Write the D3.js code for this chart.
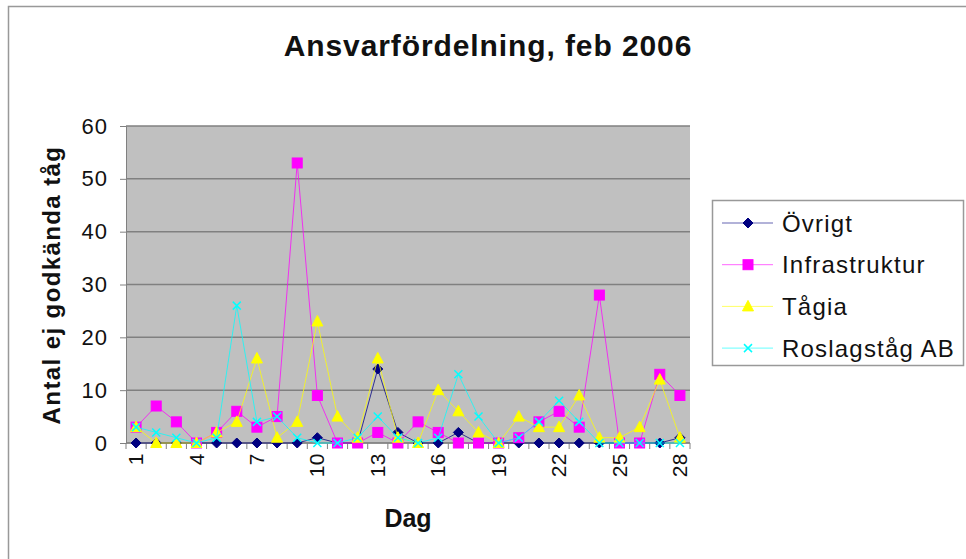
<!DOCTYPE html>
<html><head><meta charset="utf-8">
<script src="https://cdn.jsdelivr.net/npm/d3@7"></script>
<style>body{margin:0;background:#fff}svg{display:block}text{font-family:"Liberation Sans",Arial,sans-serif}</style>
</head><body><svg id="c" width="966" height="559"></svg>
<script>
const days = d3.range(1, 29);
const dayLabels = days.map(String);
const seriesNames = ["Övrigt", "Infrastruktur", "Tågia", "Roslagståg AB"];
const ovrigt = [0,0,0,0,0,0,0,0,0,1,0,0,14,2,0,0,2,0,0,0,0,0,0,0,0,0,0,1];
const infrastruktur = [3,7,4,0,2,6,3,5,53,9,0,0,2,0,4,2,0,0,0,1,4,6,3,28,0,0,13,9];
const tagia = [3,0,0,0,2,4,16,1,4,23,5,1,16,1,0,10,6,2,0,5,3,3,9,1,1,3,12,1];
const roslagstag = [3,2,1,0,1,26,4,5,1,0,0,1,5,1,0,1,13,5,0,1,4,8,4,0,0,0,0,0];
const yTicks = [0,10,20,30,40,50,60];
const title = "Ansvarfördelning, feb 2006";
const yTitle = "Antal ej godkända tåg";
const xTitle = "Dag";

const colors = ["#000080", "#FF00FF", "#FFFF00", "#00FFFF"];
const lineColors = ["#000080", "#FF00FF", "#FFFF00", "#00FFFF"];
const shapes = ["diamond", "square", "triangle", "x"];
const allData = [ovrigt, infrastruktur, tagia, roslagstag];

const svg = d3.select("#c");
const L = 126, R = 690, T = 126, B = 443;

svg.append("rect").attr("x", 8.5).attr("y", 6.5).attr("width", 1000).attr("height", 1000)
  .attr("fill", "none").attr("stroke", "#999").attr("stroke-width", 1.5);

const x = d3.scaleBand().domain(dayLabels).range([L, R]).padding(0);
const y = d3.scaleLinear().domain([0, 60]).range([B, T]);

svg.append("rect").attr("x", L).attr("y", T).attr("width", R - L).attr("height", B - T).attr("fill", "#c0c0c0");

svg.append("g").selectAll("line").data(yTicks).join("line")
  .attr("x1", L).attr("x2", R).attr("y1", d => y(d)).attr("y2", d => y(d))
  .attr("stroke", "#808080").attr("stroke-width", 1.5);

const yAxis = d3.axisLeft(y).tickValues(yTicks).tickSize(6).tickPadding(12);
const gy = svg.append("g").attr("transform", `translate(${L},0)`).call(yAxis);
gy.select(".domain").attr("stroke", "#808080");
gy.selectAll(".tick line").attr("stroke", "#808080");
gy.selectAll(".tick text").attr("font-size", 22).attr("fill", "#111").style("letter-spacing", "1px")
  .attr("font-family", "Liberation Sans, Arial, sans-serif");

const xb = svg.append("g");
xb.append("line").attr("x1", L).attr("x2", R).attr("y1", B).attr("y2", B).attr("stroke", "#808080");
const bounds = dayLabels.map(d => x(d)).concat([x(dayLabels[dayLabels.length - 1]) + x.bandwidth()]);
xb.selectAll("line.t").data(bounds).join("line").attr("class", "t")
  .attr("x1", d => d).attr("x2", d => d).attr("y1", B).attr("y2", B + 6).attr("stroke", "#808080");
xb.selectAll("text").data(dayLabels.filter((d, i) => i % 3 === 0)).join("text")
  .attr("transform", d => `translate(${x(d) + x.bandwidth() / 2 + 7},${453}) rotate(-90)`)
  .attr("text-anchor", "end").attr("font-size", 21).attr("fill", "#111").style("letter-spacing", "0.5px").text(d => d);

const cx = d => x(d) + x.bandwidth() / 2;
function drawMarker(g, shape, color, px, py) {
  if (shape === "diamond") {
    g.append("path").attr("d", `M${px},${py - 5}L${px + 5},${py}L${px},${py + 5}L${px - 5},${py}Z`)
      .attr("fill", color).attr("stroke", color);
  } else if (shape === "square") {
    g.append("rect").attr("x", px - 5).attr("y", py - 5).attr("width", 10).attr("height", 10)
      .attr("fill", color).attr("stroke", color);
  } else if (shape === "triangle") {
    g.append("path").attr("d", `M${px},${py - 6}L${px + 5.5},${py + 4.5}L${px - 5.5},${py + 4.5}Z`)
      .attr("fill", color).attr("stroke", color);
  } else {
    g.append("path").attr("d", `M${px - 4},${py - 4}L${px + 4},${py + 4}M${px + 4},${py - 4}L${px - 4},${py + 4}`)
      .attr("stroke", color).attr("stroke-width", 1.5).attr("fill", "none");
  }
}
const line = d3.line().x((v, i) => cx(dayLabels[i])).y(v => y(v));
allData.forEach((vals, si) => {
  const g = svg.append("g");
  g.append("path").attr("d", line(vals)).attr("fill", "none").attr("stroke", lineColors[si]).attr("stroke-width", 1).attr("opacity", 0.75);
  vals.forEach((v, i) => drawMarker(g, shapes[si], colors[si], cx(dayLabels[i]), y(v)));
});

svg.append("text").attr("x", 488).attr("y", 56).attr("text-anchor", "middle").attr("font-size", 30)
  .attr("font-weight", "bold").style("letter-spacing", "0.9px").attr("fill", "#111").text(title);
svg.append("text").attr("transform", `translate(60,285) rotate(-90)`).attr("text-anchor", "middle")
  .attr("font-size", 24).attr("font-weight", "bold").style("letter-spacing", "1.4px").attr("fill", "#111").text(yTitle);
svg.append("text").attr("x", 408).attr("y", 527).attr("text-anchor", "middle")
  .attr("font-size", 25).attr("font-weight", "bold").attr("fill", "#111").text(xTitle);

const lg = svg.append("g");
lg.append("rect").attr("x", 712.5).attr("y", 200.5).attr("width", 251).attr("height", 165)
  .attr("fill", "#fff").attr("stroke", "#999").attr("stroke-width", 1.5);
seriesNames.forEach((n, i) => {
  const ly = 223 + i * 41.7;
  lg.append("line").attr("x1", 722).attr("x2", 773).attr("y1", ly).attr("y2", ly).attr("stroke", lineColors[i]).attr("opacity", 0.6);
  drawMarker(lg, shapes[i], colors[i], 748, ly);
  lg.append("text").attr("x", 782).attr("y", ly + 8.5).attr("font-size", 24).style("letter-spacing", "1.2px")
    .attr("fill", "#111").text(n);
});
</script></body></html>
